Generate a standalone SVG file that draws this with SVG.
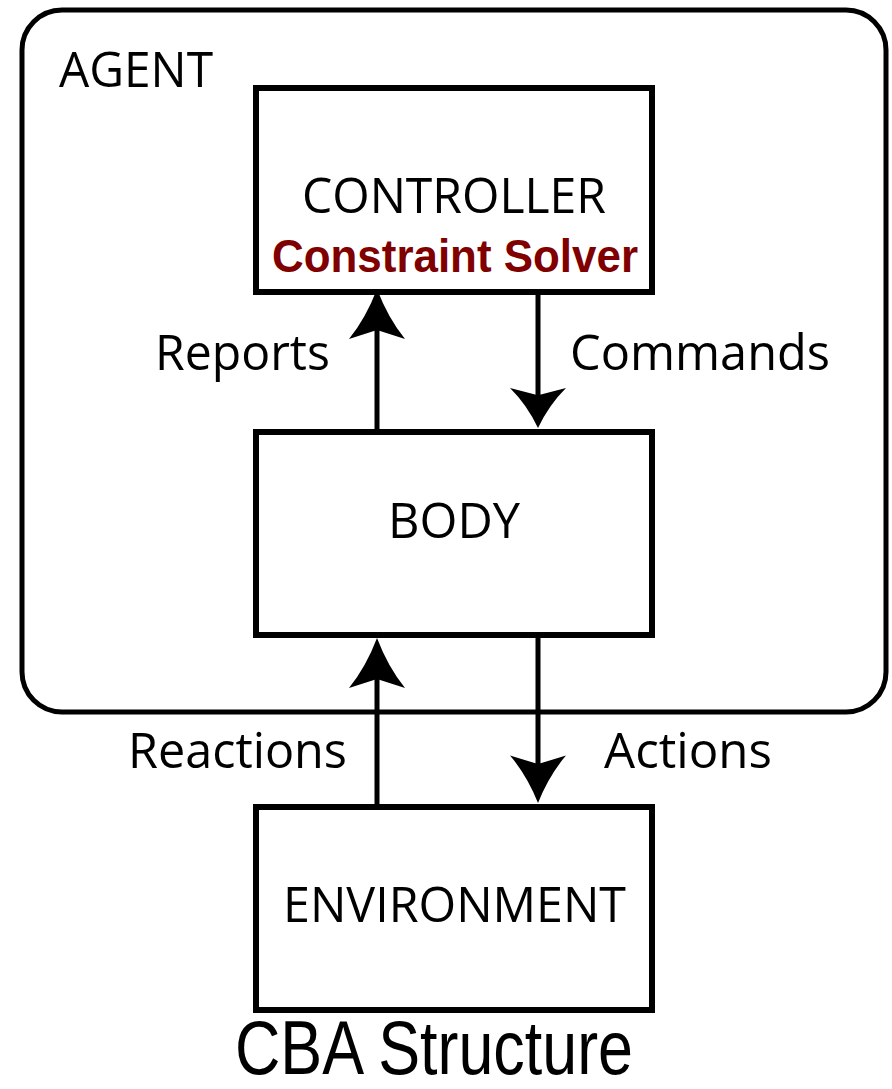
<svg xmlns="http://www.w3.org/2000/svg" xmlns:xlink="http://www.w3.org/1999/xlink" width="892" height="1089" viewBox="0 0 892 1089">
  <style>
    .frame { fill: none; stroke: #000; stroke-width: 5; }
    .box { fill: #fff; stroke: #000; stroke-width: 6; }
    .wire { fill: none; stroke: #000; stroke-width: 5; }
    .head { fill: #000; stroke: none; }
    .lbl { font-family: "Open Sans", "Noto Sans", sans-serif; font-size: 50px; fill: #000; }
    .sub { font-family: "Liberation Sans", Arial, sans-serif; font-weight: bold; font-size: 46px; fill: #800000; }
    .cap { font-family: "Liberation Sans", Arial, sans-serif; font-size: 76px; fill: #000; }
  </style>
  <defs>
    <!-- concave-backed arrowhead, tip at origin, pointing up -->
    <path id="head" d="M0,0 Q11,29 28,50 L0,41 L-28,50 Q-11,29 0,0 Z"/>
  </defs>
  <rect width="892" height="1089" fill="#fff"/>

  <!-- agent boundary -->
  <g id="agent">
    <rect class="frame" x="22" y="10" width="864" height="702" rx="40" ry="40"/>
    <text class="lbl" x="59" y="87" textLength="154" lengthAdjust="spacingAndGlyphs">AGENT</text>
  </g>

  <!-- connectors -->
  <g id="connectors">
    <line class="wire" x1="377" y1="432" x2="377" y2="305"/>
    <use xlink:href="#head" class="head" transform="translate(377,289)"/>
    <line class="wire" x1="538" y1="292" x2="538" y2="410"/>
    <use xlink:href="#head" class="head" transform="translate(538,428) scale(1,-0.8)"/>
    <line class="wire" x1="377" y1="806" x2="377" y2="655"/>
    <use xlink:href="#head" class="head" transform="translate(377,638)"/>
    <line class="wire" x1="538" y1="635" x2="538" y2="785"/>
    <use xlink:href="#head" class="head" transform="translate(538,803) scale(1,-0.95)"/>
    <text class="lbl" x="155" y="370" textLength="175" lengthAdjust="spacingAndGlyphs">Reports</text>
    <text class="lbl" x="570" y="370" textLength="260" lengthAdjust="spacingAndGlyphs">Commands</text>
    <text class="lbl" x="128" y="768" textLength="219" lengthAdjust="spacingAndGlyphs">Reactions</text>
    <text class="lbl" x="604" y="768" textLength="168" lengthAdjust="spacingAndGlyphs">Actions</text>
  </g>

  <g id="controller">
    <rect class="box" x="256" y="88" width="396" height="204"/>
    <text class="lbl" x="302" y="213" textLength="304" lengthAdjust="spacingAndGlyphs">CONTROLLER</text>
    <text class="sub" x="272" y="272" textLength="366" lengthAdjust="spacingAndGlyphs">Constraint Solver</text>
  </g>

  <g id="body">
    <rect class="box" x="256" y="432" width="396" height="203"/>
    <text class="lbl" x="388" y="538" textLength="132" lengthAdjust="spacingAndGlyphs">BODY</text>
  </g>

  <g id="environment">
    <rect class="box" x="256" y="807" width="396" height="203"/>
    <text class="lbl" x="283" y="922" textLength="343" lengthAdjust="spacingAndGlyphs">ENVIRONMENT</text>
  </g>

  <text class="cap" x="235" y="1074" textLength="398" lengthAdjust="spacingAndGlyphs">CBA Structure</text>
</svg>
